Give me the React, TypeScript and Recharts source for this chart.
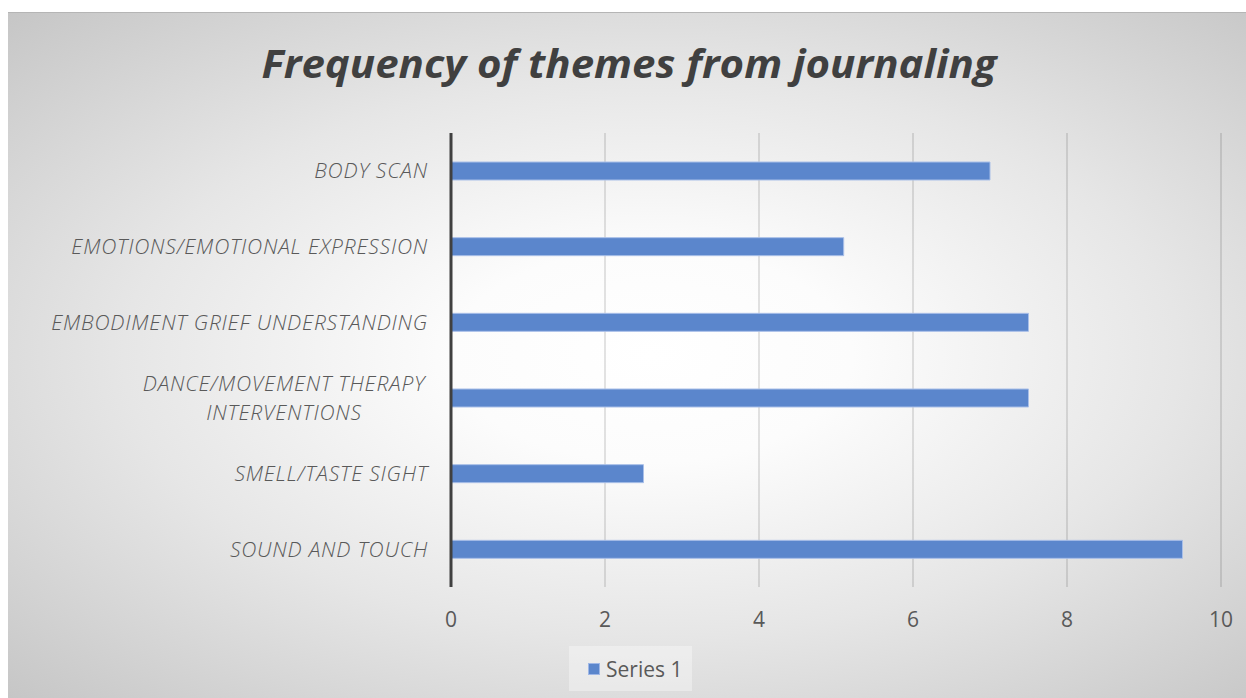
import React from "react";
import { BarChart, Bar, XAxis, YAxis, CartesianGrid, Legend } from "recharts";

const categories = [
  "BODY SCAN",
  "EMOTIONS/EMOTIONAL EXPRESSION",
  "EMBODIMENT GRIEF UNDERSTANDING",
  "DANCE/MOVEMENT THERAPY\nINTERVENTIONS",
  "SMELL/TASTE SIGHT",
  "SOUND AND TOUCH",
];
const series1 = [7, 5.1, 7.5, 7.5, 2.5, 9.5];
const xTicks = [0, 2, 4, 6, 8, 10];
const title = "Frequency of themes from journaling";
const seriesName = "Series 1";

const data = categories.map((c, i) => ({ name: c, value: series1[i] }));

const W = 1238;
const H = 686;
const FONT = "'Open Sans', 'DejaVu Sans', sans-serif";
const TEXT = "#595959";
const BAR = "#5B86CC";

const YTick = (props: any) => {
  const { x, y, payload } = props;
  const lines = String(payload.value).split("\n");
  const common = {
    fontFamily: FONT,
    fontStyle: "italic",
    fontWeight: 300,
    fontSize: 21,
    letterSpacing: 0.8,
    fill: TEXT,
  } as any;
  if (lines.length === 1) {
    return (
      <text x={x} y={y} dy="0.35em" textAnchor="end" {...common}>
        {lines[0]}
      </text>
    );
  }
  const cx = x - 144;
  const lh = 29;
  const start = -((lines.length - 1) * lh) / 2;
  return (
    <text x={cx} y={y} textAnchor="middle" {...common}>
      {lines.map((l, i) => (
        <tspan key={i} x={cx} y={y + start + i * lh} dy="0.35em">
          {l}
        </tspan>
      ))}
    </text>
  );
};

const LegendContent = () => (
  <div
    style={{
      width: 123,
      height: 45,
      background: "rgba(255,255,255,0.35)",
      display: "flex",
      alignItems: "center",
      boxSizing: "border-box",
      paddingLeft: 19,
      fontFamily: FONT,
      fontSize: 21,
      color: TEXT,
    }}
  >
    <span style={{ display: "inline-block", width: 12, height: 12, background: BAR, border: "1px solid #9fb7e6", boxSizing: "border-box", marginRight: 6 }} />
    <span>{seriesName}</span>
  </div>
);

export default function App() {
  return (
    <div
      style={{
        position: "absolute",
        left: 8,
        top: 12,
        width: W,
        height: H,
        background: "radial-gradient(ellipse farthest-corner at 52% 50%, #ffffff 0%, #fcfcfc 22%, #e6e6e6 58%, #c6c6c6 100%)",
        borderTop: "1px solid #b5b5b5",
        boxSizing: "border-box",
        overflow: "hidden",
      }}
    >
      <svg width={W} height={100} style={{ position: "absolute", left: 0, top: -1 }}>
        <text
          x={621}
          y={66}
          textAnchor="middle"
          fontFamily={FONT}
          fontWeight="bold"
          fontStyle="italic"
          fontSize={40}
          fill="#404040"
          textLength={735}
          lengthAdjust="spacingAndGlyphs"
        >
          {title}
        </text>
      </svg>
      <div style={{ position: "absolute", left: 0, top: -1 }}>
        <BarChart
          width={W}
          height={H}
          data={data}
          layout="vertical"
          margin={{ top: 121, right: 25, left: 0, bottom: 71 }}
        >
          <CartesianGrid horizontal={false} vertical={true} stroke="#000" strokeOpacity={0.22} />
          <XAxis
            type="number"
            domain={[0, 10]}
            ticks={xTicks}
            axisLine={false}
            tickLine={false}
            tickSize={0}
            tickMargin={25}
            height={40}
            tick={{ fill: TEXT, fontSize: 21, fontFamily: FONT }}
          />
          <YAxis
            type="category"
            dataKey="name"
            width={443}
            axisLine={{ stroke: "#404040", strokeWidth: 3 }}
            tickLine={false}
            tickSize={0}
            tickMargin={23}
            tick={<YTick />}
            interval={0}
          />
          <Legend
            content={<LegendContent />}
            layout="horizontal"
            verticalAlign="middle"
            align="center"
            wrapperStyle={{ left: 561, top: 634, width: 123, height: 45 }}
          />
          <Bar dataKey="value" name={seriesName} fill={BAR} stroke="#a9bfe8" strokeWidth={1} barSize={18} isAnimationActive={false} />
        </BarChart>
      </div>
    </div>
  );
}
